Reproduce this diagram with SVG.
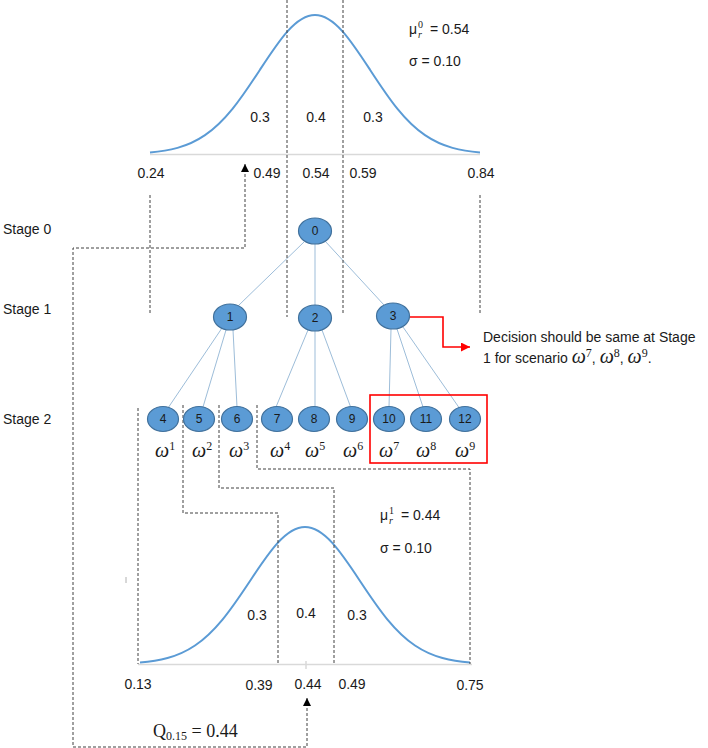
<svg xmlns="http://www.w3.org/2000/svg" width="708" height="748" viewBox="0 0 708 748">
<style>
  .sans{font-family:"Liberation Sans",Arial,sans-serif;font-size:14px;fill:#1a1a1a}
  .ser{font-family:"Liberation Serif","Times New Roman",serif;fill:#1a1a1a}
  .om{font-family:"Liberation Serif","Times New Roman",serif;font-style:italic;font-size:20px;fill:#1a1a1a}
  .sup{font-family:"Liberation Serif","Times New Roman",serif;font-style:normal;font-size:12px}
  .nd ellipse{fill:#5b9bd5;stroke:#41719c;stroke-width:1.2}
  .nd text{font-family:"Liberation Sans",Arial,sans-serif;font-size:12px;fill:#1a1a1a;text-anchor:middle}
  .dash{fill:none;stroke:#404040;stroke-width:1;stroke-dasharray:3 2}
  .edge{stroke:#9dbdd9;stroke-width:1;fill:none}
  .curve{fill:none;stroke:#5b9bd5;stroke-width:2}
  .axis{stroke:#d9d9d9;stroke-width:1.5}
  .mid{text-anchor:middle}
</style>
<defs>
  <path id="bell" d="M -165,-1.544 C -155.83,-2.316 -146.67,-3.563 -137.5,-6.108 C -128.33,-8.653 -119.17,-12.541 -110,-18.812 C -100.83,-25.083 -91.67,-33.844 -82.5,-45.126 C -73.33,-56.408 -64.17,-70.257 -55,-84.308 C -45.83,-98.359 -36.67,-112.445 -27.5,-122.667 C -18.33,-132.889 -9.17,-139 0,-139 C 9.17,-139 18.33,-132.889 27.5,-122.667 C 36.67,-112.445 45.83,-98.359 55,-84.308 C 64.17,-70.257 73.33,-56.408 82.5,-45.126 C 91.67,-33.844 100.83,-25.083 110,-18.812 C 119.17,-12.541 128.33,-8.653 137.5,-6.108 C 146.67,-3.563 155.83,-2.316 165,-1.544"/>
  <marker id="ab" viewBox="0 0 10 10" refX="10" refY="5" markerWidth="8" markerHeight="8" markerUnits="userSpaceOnUse" orient="auto-start-reverse">
    <path d="M0,0 L10,5 L0,10 z" fill="#000"/>
  </marker>
  <marker id="ar" viewBox="0 0 10 10" refX="10" refY="5" markerWidth="9" markerHeight="9" markerUnits="userSpaceOnUse" orient="auto">
    <path d="M0,0 L10,5 L0,10 z" fill="#ff0000"/>
  </marker>
</defs>

<!-- top distribution -->
<g id="dist-top">
  <line class="axis" x1="150" y1="154.5" x2="480" y2="154.5"/>
  <use href="#bell" class="curve" transform="translate(315,154)"/>
  <text class="sans mid" x="260" y="122">0.3</text>
  <text class="sans mid" x="316" y="122">0.4</text>
  <text class="sans mid" x="373" y="122">0.3</text>
  <text class="sans mid" x="151" y="178">0.24</text>
  <text class="sans mid" x="267" y="178">0.49</text>
  <text class="sans mid" x="316" y="178">0.54</text>
  <text class="sans mid" x="363" y="178">0.59</text>
  <text class="sans mid" x="481" y="178">0.84</text>
  <text class="sans" x="409" y="34">μ</text>
  <text class="ser" x="418" y="28" font-size="10">0</text>
  <text class="ser" x="418" y="38" font-size="10" font-style="italic">r</text>
  <text class="sans" x="430" y="34">= 0.54</text>
  <text class="sans" x="409" y="66">σ = 0.10</text>
</g>

<!-- bottom distribution -->
<g id="dist-bottom">
  <line class="axis" x1="138" y1="664.5" x2="472" y2="664.5"/>
  <line class="axis" x1="306" y1="661" x2="306" y2="669" stroke-width="1"/>
  <use href="#bell" class="curve" transform="translate(305,664) scale(1,0.985)"/>
  <line x1="126" y1="577" x2="126" y2="583" stroke="#b0b0b0" stroke-width="1"/>
  <text class="sans mid" x="257" y="620">0.3</text>
  <text class="sans mid" x="306" y="618">0.4</text>
  <text class="sans mid" x="357" y="620">0.3</text>
  <text class="sans mid" x="138" y="689">0.13</text>
  <text class="sans mid" x="259" y="690">0.39</text>
  <text class="sans mid" x="308" y="689">0.44</text>
  <text class="sans mid" x="352" y="689">0.49</text>
  <text class="sans mid" x="470" y="690">0.75</text>
  <text class="sans" x="380" y="520">μ</text>
  <text class="ser" x="389" y="514" font-size="10">1</text>
  <text class="ser" x="389" y="524" font-size="10" font-style="italic">r</text>
  <text class="sans" x="401" y="520">= 0.44</text>
  <text class="sans" x="380" y="553">σ = 0.10</text>
  <text class="ser" x="153" y="737" font-size="18">Q<tspan font-size="12" dy="3">0.15</tspan><tspan dy="-3"> = 0.44</tspan></text>
</g>

<!-- stage labels -->
<g id="stages">
  <text class="sans" x="3" y="234">Stage 0</text>
  <text class="sans" x="3" y="314">Stage 1</text>
  <text class="sans" x="3" y="424">Stage 2</text>
</g>

<!-- connectors -->
<g id="connectors">
  <g id="tree-edges">
    <line class="edge" x1="304" y1="242" x2="238" y2="306"/>
    <line class="edge" x1="315" y1="244" x2="315" y2="305"/>
    <line class="edge" x1="325" y1="241" x2="384" y2="305"/>
    <line class="edge" x1="222" y1="328" x2="168" y2="408"/>
    <line class="edge" x1="226" y1="330" x2="203" y2="407"/>
    <line class="edge" x1="233" y1="330" x2="237" y2="407"/>
    <line class="edge" x1="308" y1="330" x2="276" y2="407"/>
    <line class="edge" x1="315" y1="331" x2="315" y2="407"/>
    <line class="edge" x1="322" y1="330" x2="351" y2="408"/>
    <line class="edge" x1="391" y1="329" x2="389" y2="407"/>
    <line class="edge" x1="397" y1="329" x2="423" y2="407"/>
    <line class="edge" x1="403" y1="327" x2="460" y2="409"/>
  </g>
  <g id="dashed">
    <line class="dash" x1="287" y1="0" x2="287" y2="317"/>
    <line class="dash" x1="343" y1="0" x2="343" y2="313"/>
    <line class="dash" x1="150" y1="195" x2="150" y2="313"/>
    <line class="dash" x1="480" y1="195" x2="480" y2="313"/>
    <path class="dash" d="M245,164 V248 H73 V747 H307 V698" marker-start="url(#ab)" marker-end="url(#ab)"/>
    <line class="dash" x1="138" y1="408" x2="138" y2="664"/>
    <path class="dash" d="M183,405 V513 H278 V664"/>
    <path class="dash" d="M219,405 V488 H334 V664"/>
    <path class="dash" d="M257,405 V469 H470 V664"/>
  </g>
  <path id="red-arrow" d="M409,317 H443 V347 H470" fill="none" stroke="#ff0000" stroke-width="1.6" marker-end="url(#ar)"/>
</g>

<!-- nodes -->
<g id="n0" class="nd"><ellipse cx="315" cy="231" rx="16.5" ry="13"/><text x="315" y="235">0</text></g>
<g id="n1" class="nd"><ellipse cx="230" cy="317" rx="16.5" ry="13"/><text x="230" y="321">1</text></g>
<g id="n2" class="nd"><ellipse cx="315" cy="318" rx="16.5" ry="13"/><text x="315" y="322">2</text></g>
<g id="n3" class="nd"><ellipse cx="393" cy="316" rx="16.5" ry="13"/><text x="393" y="320">3</text></g>
<g id="n4" class="nd"><ellipse cx="163" cy="419" rx="15.5" ry="12.5"/><text x="163" y="423">4</text></g>
<g id="n5" class="nd"><ellipse cx="199" cy="419" rx="15.5" ry="12.5"/><text x="199" y="423">5</text></g>
<g id="n6" class="nd"><ellipse cx="237" cy="419" rx="15.5" ry="12.5"/><text x="237" y="423">6</text></g>
<g id="n7" class="nd"><ellipse cx="277" cy="419" rx="15.5" ry="12.5"/><text x="277" y="423">7</text></g>
<g id="n8" class="nd"><ellipse cx="314" cy="419" rx="15.5" ry="12.5"/><text x="314" y="423">8</text></g>
<g id="n9" class="nd"><ellipse cx="352" cy="419" rx="15.5" ry="12.5"/><text x="352" y="423">9</text></g>
<g id="n10" class="nd"><ellipse cx="389" cy="419" rx="15.5" ry="12.5"/><text x="389" y="423">10</text></g>
<g id="n11" class="nd"><ellipse cx="426" cy="419" rx="15.5" ry="12.5"/><text x="426" y="423">11</text></g>
<g id="n12" class="nd"><ellipse cx="465" cy="419" rx="15.5" ry="12.5"/><text x="465" y="423">12</text></g>

<!-- scenario labels -->
<g id="scenarios">
  <text class="om" x="155" y="457">ω<tspan class="sup" dy="-7">1</tspan></text>
  <text class="om" x="192" y="457">ω<tspan class="sup" dy="-7">2</tspan></text>
  <text class="om" x="229" y="457">ω<tspan class="sup" dy="-7">3</tspan></text>
  <text class="om" x="270" y="457">ω<tspan class="sup" dy="-7">4</tspan></text>
  <text class="om" x="305" y="457">ω<tspan class="sup" dy="-7">5</tspan></text>
  <text class="om" x="343" y="457">ω<tspan class="sup" dy="-7">6</tspan></text>
  <text class="om" x="379" y="457">ω<tspan class="sup" dy="-7">7</tspan></text>
  <text class="om" x="416" y="457">ω<tspan class="sup" dy="-7">8</tspan></text>
  <text class="om" x="455" y="457">ω<tspan class="sup" dy="-7">9</tspan></text>
</g>

<g id="group-box"><rect x="370" y="395" width="117" height="68" fill="none" stroke="#ff0000" stroke-width="1.6"/></g>

<g id="note">
  <text class="sans" x="483" y="342" font-size="14.7">Decision should be same at Stage</text>
  <text class="sans" x="483" y="363" font-size="14.7">1 for scenario <tspan class="om" font-size="17">ω</tspan><tspan class="sup" dy="-6">7</tspan><tspan dy="6">, </tspan><tspan class="om" font-size="17">ω</tspan><tspan class="sup" dy="-6">8</tspan><tspan dy="6">, </tspan><tspan class="om" font-size="17">ω</tspan><tspan class="sup" dy="-6">9</tspan><tspan dy="6">.</tspan></text>
</g>
</svg>
